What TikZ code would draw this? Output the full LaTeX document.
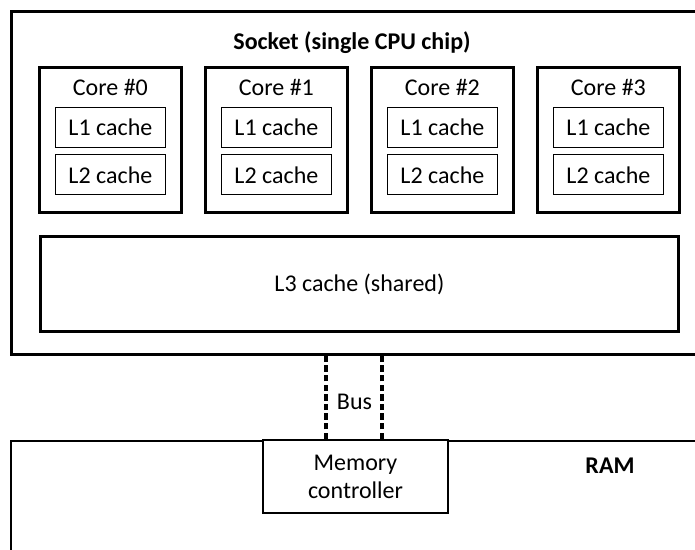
\documentclass[tikz,border=0pt]{standalone}
\usepackage{fontspec}
\setmainfont{Carlito}
\usetikzlibrary{positioning,calc}
\definecolor{edgec}{HTML}{000000}

\begin{document}
\begin{tikzpicture}[
  x=0.5pt, y=-0.5pt,
  font=\fontsize{12}{14}\selectfont,
  box/.style={rectangle, draw=edgec, fill=white, line width=1.4pt, inner sep=0pt},
  corebox/.style={box, minimum width=71pt, minimum height=72.5pt},
  cache/.style={rectangle, draw=edgec, line width=0.6pt, inner sep=0pt,
                minimum width=55pt, minimum height=20pt},
  bus/.style={draw=edgec, line width=2pt, dash pattern=on 3.2pt off 1.6pt},
  ttl/.style={font=\fontsize{12}{14}\selectfont\bfseries},
]
\useasboundingbox (0,0) rectangle (695,550);
\clip (0,0) rectangle (695,550);

% ---- socket (cut off at the right edge) ----
\node[box, anchor=north west, minimum width=360pt, minimum height=171.5pt] (socket) at (10,10) {};
\node[ttl] (sockname) at (352,43) {Socket (single CPU chip)};

% ---- four cores with private caches ----
\foreach \i in {0,...,3} {
  \node[corebox, anchor=north west] (core\i) at ({38+166*\i},66) {};
  \node (name\i) at ($(core\i.north)+(0,21)$) {Core \#\i};
  \node[cache, below=20.5pt of core\i.north] (lone\i) {L1 cache};
  \node[cache, below=3pt of lone\i] (ltwo\i) {L2 cache};
}

% ---- shared cache ----
\node[box, anchor=north west, minimum width=319pt, minimum height=47.5pt] (lthree) at (39,235) {L3 cache (shared)};

% ---- main memory ----
\node[box, line width=1pt, anchor=north west, minimum width=360pt, minimum height=80pt] (ram) at (10,440) {};
\node[ttl] (ramname) at (610,466) {RAM};
\node[box, line width=1pt, anchor=north, minimum width=92.5pt, minimum height=36.5pt,
      align=center, yshift=0.5pt] (mc) at (355.5,440) {Memory\\controller};

% ---- bus between socket and memory controller ----
\draw[bus] ([xshift=-14.75pt]mc.north) -- ([xshift=-14.75pt]mc.north |- socket.south);
\draw[bus] ([xshift=13.25pt]mc.north) -- ([xshift=13.25pt]mc.north |- socket.south);
\node (bus) at ($(mc.north)!0.5!(mc.north |- socket.south)+(-1,4)$) {Bus};
\end{tikzpicture}
\end{document}
